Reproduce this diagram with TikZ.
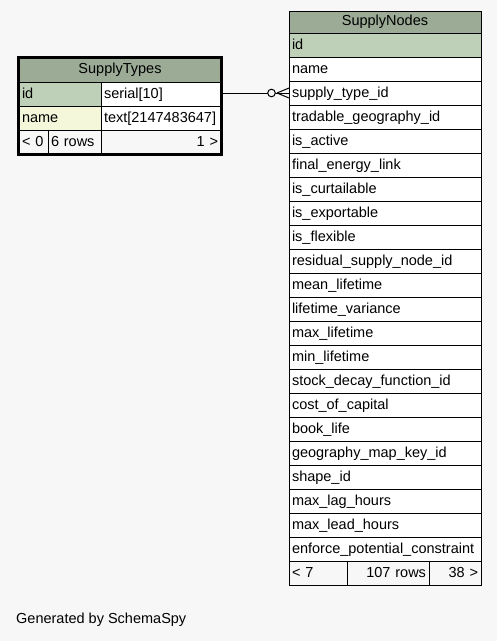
\documentclass[tikz,border=0pt]{standalone}
\usepackage{fontspec}
\setmainfont{Liberation Sans}
\usetikzlibrary{fit}
\definecolor{bgc}{HTML}{F7F7F7}
\definecolor{hdrc}{HTML}{9BAB96}
\definecolor{pkc}{HTML}{BED1B8}
\definecolor{idxc}{HTML}{F4F7DA}
\tikzset{
  cell/.style={draw=black, line width=1pt, minimum height=24pt, inner xsep=3pt, inner ysep=0pt,
    outer sep=0pt, anchor=north west, font=\fontsize{14.5}{17}\selectfont,
    text height=11pt, text depth=2pt, fill=white},
  hdr/.style={fill=hdrc, align=center, text height=10.5pt, text depth=3pt},
  pk/.style={fill=pkc},
  idx/.style={fill=idxc},
  foot/.style={fill=bgc},
  lft/.style={align=left},
  rgt/.style={align=right},
  conn/.style={draw=black, line width=1pt},
}
\begin{document}
\begin{tikzpicture}[x=1pt,y=-1pt]
\fill[bgc] (0,0) rectangle (497,641);
\useasboundingbox (0,0) rectangle (497,641);

% SupplyNodes
\node[cell, hdr, text width=186pt, minimum height=22pt] (snh) at (289,11) {SupplyNodes};
\foreach \n [count=\i from 0] in {id,name,supply\_type\_id,tradable\_geography\_id,is\_active,final\_energy\_link,is\_curtailable,is\_exportable,is\_flexible,residual\_supply\_node\_id,mean\_lifetime,lifetime\_variance,max\_lifetime,min\_lifetime,stock\_decay\_function\_id,cost\_of\_capital,book\_life,geography\_map\_key\_id,shape\_id,max\_lag\_hours,max\_lead\_hours,enforce\_potential\_constraint}{
  \node[cell, lft, text width=186pt] (sn\i) at (289,{33+24*\i}) {\n};
}
\node[cell, pk, lft, text width=186pt] (sn0) at (289,33) {id};
\node[cell, foot, lft, text width=52pt] (snf1) at (289,561) {< 7};
\node[cell, foot, rgt, text width=76pt] (snf2) at (347,561) {107 rows};
\node[cell, foot, rgt, text width=46pt] (snf3) at (429,561) {38 >};

% SupplyTypes
\node[cell, hdr, text width=196pt] (sth) at (19,58) {SupplyTypes};
\node[cell, pk, lft, text width=76pt] (st1a) at (19,82) {id};
\node[cell, lft, text width=114pt] (st1b) at (101,82) {serial[10]};
\node[cell, idx, lft, text width=76pt] (st2a) at (19,106) {name};
\node[cell, lft, text width=114pt] (st2b) at (101,106) {text[2147483647]};
\node[cell, foot, lft, text width=23pt] (stf1) at (19,130) {< 0};
\node[cell, foot, lft, text width=47pt] (stf2) at (48,130) {6 rows};
\node[cell, foot, rgt, text width=114pt] (stf3) at (101,130) {1 >};
\node[fit=(sth)(stf3), inner sep=0.5pt, draw=black, line width=3pt] (st) {};

% connector
\coordinate (cf) at ([xshift=-12pt]sn2.west);
\draw[conn] (st.east |- sn2.west) -- (sn2.west);
\draw[conn] (cf) -- ([yshift=5pt]sn2.west);
\draw[conn] (cf) -- ([yshift=-5pt]sn2.west);
\draw[conn, fill=bgc] ([xshift=-17.5pt]sn2.west) circle (3.8pt);

\node[anchor=west, inner sep=0pt, font=\fontsize{14.5}{17}\selectfont] (gen) at (16,620) {Generated by SchemaSpy};
\end{tikzpicture}
\end{document}
